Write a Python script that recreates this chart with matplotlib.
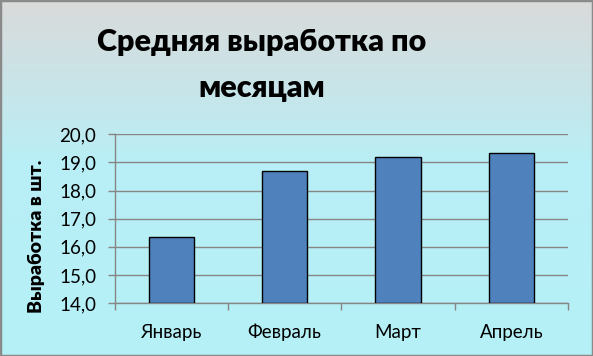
import matplotlib
matplotlib.use("Agg")
import matplotlib.pyplot as plt
import numpy as np
from matplotlib.colors import LinearSegmentedColormap
from matplotlib.patches import Rectangle

months = ["Январь", "Февраль", "Март", "Апрель"]
output = [16.34, 18.69, 19.18, 19.33]
yticks = [14.0, 15.0, 16.0, 17.0, 18.0, 19.0, 20.0]

plt.rcParams['font.family'] = ['Lato', 'DejaVu Sans']

W, H = 593, 356
fig = plt.figure(figsize=(W / 100, H / 100), dpi=100)

# background gradient: grey at the top, cyan lower down
bg = fig.add_axes([0, 0, 1, 1], zorder=-10)
cmap = LinearSegmentedColormap.from_list(
    "bg", [(0, "#dadada"), (0.45, "#b9eef5"), (1, "#b5f1f8")])
grad = np.linspace(0, 1, 256).reshape(-1, 1)
bg.imshow(grad, aspect="auto", cmap=cmap, extent=[0, 1, 0, 1], origin="upper")
bg.set_axis_off()
bg.add_patch(Rectangle((0, 0), 1, 1, transform=bg.transAxes, fill=False,
                       edgecolor="#8a8a8a", linewidth=2.5, clip_on=False))

ax = fig.add_axes([114.5 / W, 1 - 303 / H, (568 - 114.5) / W, (303 - 134.3) / H])
ax.set_facecolor("none")

x = np.arange(len(months))
ax.bar(x, [v - 14.0 for v in output], bottom=14.0, width=0.4,
       color="#4f81bd", edgecolor="black", linewidth=1.0, zorder=3)

ax.set_xlim(-0.5, len(months) - 0.5)
ax.set_ylim(14.0, 20.0)
ax.set_yticks(yticks)
ax.set_yticklabels([f"{t:.1f}".replace(".", ",") for t in yticks], fontsize=13.5)
ax.yaxis.grid(True, color="#868686", linewidth=1.0, zorder=0)
ax.set_axisbelow(True)

ax.set_xticks(np.arange(-0.5, len(months), 1.0))
ax.set_xticklabels([])
ax.set_xticks(x, minor=True)
ax.set_xticklabels(months, minor=True, fontsize=13.5)
ax.tick_params(axis="x", which="minor", length=0, pad=15)
ax.tick_params(axis="x", which="major", length=5, color="#868686", width=1)
ax.tick_params(axis="y", length=5, color="#868686", width=1, pad=8)

for s in ["top", "right"]:
    ax.spines[s].set_visible(False)
for s in ["left", "bottom"]:
    ax.spines[s].set_color("#868686")
    ax.spines[s].set_linewidth(1.0)

fig.text(262 / W, 1 - 65 / H, "Средняя выработка по\nмесяцам", ha="center",
         va="center", fontsize=22, fontweight="heavy", linespacing=1.75)
fig.text(37 / W, 1 - 236 / H, "Выработка в шт.", rotation=90, ha="center",
         va="center", fontsize=14, fontweight="heavy")

fig.savefig("out.png", dpi=100)
